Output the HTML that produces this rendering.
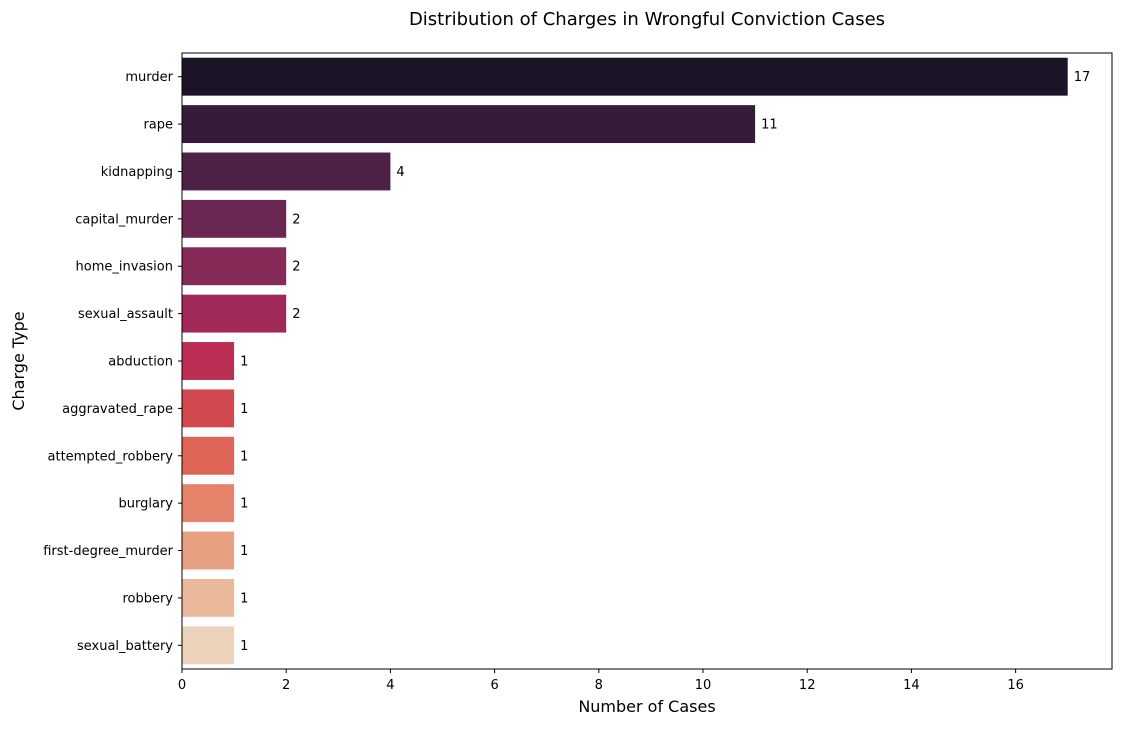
<!DOCTYPE html>
<html><head><meta charset="utf-8"><style>
body{margin:0;background:#fff;font-family:"Liberation Sans","DejaVu Sans",sans-serif;}
svg text{font-family:"DejaVu Sans","Liberation Sans",sans-serif;}
</style></head><body>
<svg id="chart" width="1122" height="726" xmlns="http://www.w3.org/2000/svg"></svg>
<script>
const categories=["murder","rape","kidnapping","capital_murder","home_invasion","sexual_assault","abduction","aggravated_rape","attempted_robbery","burglary","first-degree_murder","robbery","sexual_battery"];
const values=[17,11,4,2,2,2,1,1,1,1,1,1,1];
const colors=["#1c1528","#351c38","#4d2246","#6a2751","#862a58","#a1295a","#bc2f55","#d1484f","#df6656","#e4836a","#e8a083","#eab99c","#edd2bb"];
const xTicks=[0,2,4,6,8,10,12,14,16];
const L=182,R=1112,T=53,B=669,xMax=17.85;
const NS="http://www.w3.org/2000/svg";
const svg=document.getElementById('chart');
function x(v){return L+v/xMax*(R-L);}
const band=(B-T)/categories.length;
function y(i){return T+band*(i+0.5);}
function el(t,a,txt){const e=document.createElementNS(NS,t);for(const k in a)e.setAttribute(k,a[k]);if(txt!==undefined)e.textContent=txt;svg.appendChild(e);return e;}
categories.forEach((c,i)=>{
 const r=el('rect',{x:x(0),y:y(i)-band*0.4,width:x(values[i])-x(0),height:band*0.8,fill:colors[i]});
 
 
 const v=el('text',{x:x(values[i])+6,y:y(i)+4.5,'font-size':13,fill:'#000'},String(values[i]));
 
 
 el('line',{x1:L-4,x2:L,y1:y(i),y2:y(i),stroke:'#000'});
 const t=el('text',{x:L-9,y:y(i)+4.5,'font-size':13,'text-anchor':'end'},c);
 
 
});
xTicks.forEach(v=>{
 el('line',{x1:x(v),x2:x(v),y1:B,y2:B+4,stroke:'#000'});
 const t=el('text',{x:x(v),y:B+20,'font-size':13,'text-anchor':'middle'},String(v));
 
 
});
const f=el('rect',{x:L,y:T,width:R-L,height:B-T,fill:'none',stroke:'#000','stroke-width':1});


const tt=el('text',{x:(L+R)/2,y:25,'font-size':18,'text-anchor':'middle'},'Distribution of Charges in Wrongful Conviction Cases');


const xt=el('text',{x:(L+R)/2,y:712,'font-size':16,'text-anchor':'middle'},'Number of Cases');


const yt=el('text',{x:24,y:(T+B)/2,'font-size':16,'text-anchor':'middle',transform:'rotate(-90 24 '+((T+B)/2)+')'},'Charge Type');


</script>
</body></html>
